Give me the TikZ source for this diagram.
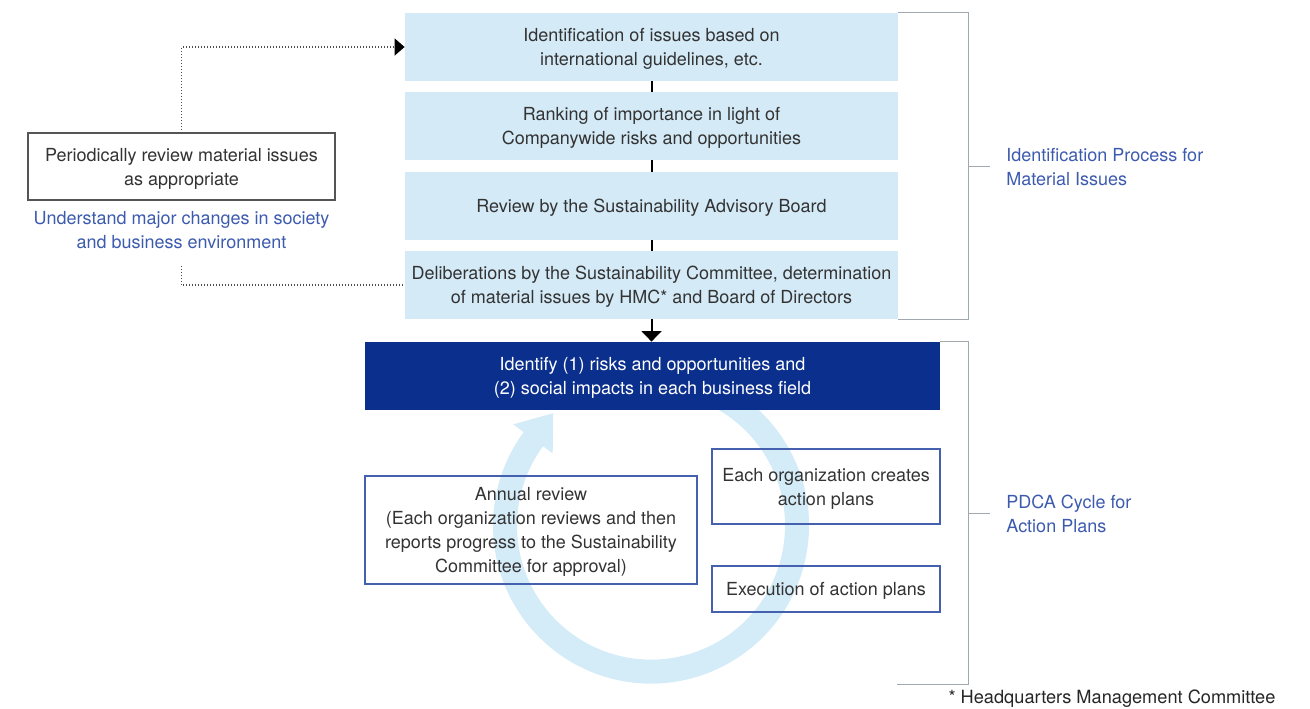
\documentclass[tikz,border=0pt]{standalone}
\usepackage{fontspec}
\setmainfont{TeX Gyre Heros}
\usetikzlibrary{arrows.meta,calc}
\definecolor{lightbox}{HTML}{D4EAF7}
\definecolor{ringc}{HTML}{D4EBF8}
\definecolor{darkbox}{HTML}{0B2F8C}
\definecolor{bluetxt}{HTML}{3D5BAE}
\definecolor{boxline}{HTML}{4660B0}
\definecolor{txt}{HTML}{333333}
\definecolor{bracketc}{HTML}{A0A8B0}
\definecolor{greyline}{HTML}{555555}
\tikzset{
  base/.style={font=\fontsize{9}{12}\selectfont, text=txt, align=center, inner sep=0pt},
  boxed/.style={base, text depth=-1.2pt},
  stage/.style={boxed, fill=lightbox, minimum width=246.5pt, minimum height=34pt},
  darkstage/.style={boxed, text=white, fill=darkbox, minimum width=287.5pt, minimum height=34pt},
  pdcabox/.style={boxed, draw=boxline, line width=0.6pt},
  leftbox/.style={boxed, draw=greyline, line width=0.6pt, minimum width=153.5pt, minimum height=33.5pt},
  bluelabel/.style={base, text=bluetxt},
  sidelabel/.style={base, text=bluetxt, align=left, anchor=west},
  conn/.style={line width=1pt, black},
  dotline/.style={line width=0.6pt, black!70, dash pattern=on 0.45pt off 1.05pt},
  bracket/.style={line width=0.5pt, bracketc},
}
\begin{document}
\begin{tikzpicture}[x=0.5pt,y=-0.5pt]
\useasboundingbox (0,0) rectangle (1310,708);
% cycle ring
\coordinate (c) at (651,525.6);
\draw[ringc, line width=12pt] ($(c)+(-75:146)$) arc[start angle=-75, end angle=216.8, radius=146];
\fill[ringc] ($(c)+(216.3:122)$) -- ($(c)+(229:149)$) -- ($(c)+(216.3:171)$) -- cycle;

% identification stages
\node[stage] (b1) at (651.5,47) {Identification of issues based on\\international guidelines, etc.};
\node[stage] (b2) at (651.5,126) {Ranking of importance in light of\\Companywide risks and opportunities};
\node[stage] (b3) at (651.5,206) {Review by the Sustainability Advisory Board};
\node[stage] (b4) at (651.5,285) {Deliberations by the Sustainability Committee, determination\\of material issues by HMC* and Board of Directors};
\node[darkstage] (d) at (652.5,376) {Identify (1) risks and opportunities and\\(2) social impacts in each business field};

\draw[conn] (b1.south) -- (b2.north);
\draw[conn] (b2.south) -- (b3.north);
\draw[conn] (b3.south) -- (b4.north);
\draw[conn, -{Triangle[length=5.3pt,width=10pt]}] (b4.south) -- (b4.south |- d.north);

% PDCA boxes
\node[pdcabox, minimum width=166pt, minimum height=54pt] (ar) at (531,530) {Annual review\\(Each organization reviews and then\\reports progress to the Sustainability\\Committee for approval)};
\node[pdcabox, minimum width=114pt, minimum height=37.5pt] (ap) at (826,486.5) {Each organization creates\\action plans};
\node[pdcabox, minimum width=114pt, minimum height=23pt] (ex) at (826,589) {Execution of action plans};

% left side
\node[leftbox] (lb) at (181.5,166.5) {Periodically review material issues\\as appropriate};
\node[bluelabel] (bt) at (181.5,230.5) {Understand major changes in society\\and business environment};
\draw[dotline, -{Triangle[length=5pt,width=8.5pt,color=black]}] ([yshift=1.5pt]lb.north) |- (b1.west);
\draw[dotline] ([yshift=-8pt]bt.south) |- (b4.west);

% brackets
\coordinate (br1) at (968,166);
\coordinate (br2) at (968,513);
\coordinate (br2end) at (897,684);
\draw[bracket] (b1.north east) -| (br1) |- (b4.south east);
\draw[bracket] (br1) -- ++(22,0);
\draw[bracket] (d.north east) -| (br2) |- (br2end);
\draw[bracket] (br2) -- ++(22,0);
\node[sidelabel] (l1) at (1006,167) {Identification Process for\\Material Issues};
\node[sidelabel] (l2) at (1006,514) {PDCA Cycle for\\Action Plans};

% footnote
\node[base, font=\fontsize{9.1}{12}\selectfont, text=black!85] (fn) at (1112,699) {* Headquarters Management Committee};
\end{tikzpicture}
\end{document}
